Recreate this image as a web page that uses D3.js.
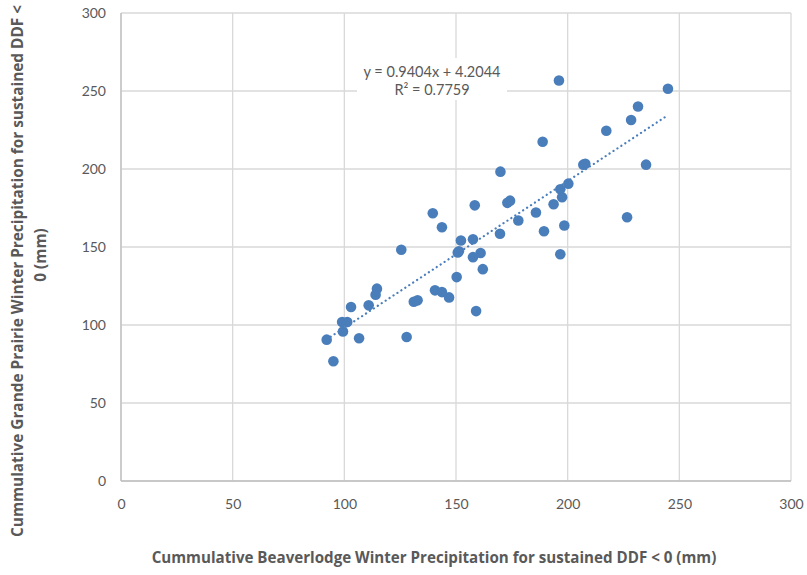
<!DOCTYPE html>
<html>
<head>
<meta charset="utf-8">
<script src="https://cdn.jsdelivr.net/npm/d3@7"></script>
<style>
  html, body { margin: 0; padding: 0; background: #fff; }
  svg { display: block; font-family: Lato, "Open Sans", sans-serif; }
</style>
</head>
<body>
<svg id="chart" width="807" height="575"></svg>
<script>
// Cumulative winter precipitation (mm) for sustained DDF < 0, one point per winter
const beaverlodge = [
  92.1, 95.1, 99.0, 101.3, 99.4, 103.0, 106.6, 110.9, 114.6, 114.0,
  125.5, 127.9, 131.1, 132.8, 139.6, 140.6, 143.7, 143.7, 146.9, 150.3,
  150.8, 151.3, 152.2, 158.4, 157.6, 157.6, 159.0, 161.0, 162.0, 169.7,
  169.9, 173.0, 174.2, 177.9, 185.8, 188.8, 189.4, 193.7, 196.1, 196.7,
  196.7, 197.5, 198.5, 200.3, 207.0, 207.9, 217.3, 226.6, 228.4, 231.5,
  235.1, 244.9
];
const grandePrairie = [
  90.6, 76.8, 101.9, 101.9, 95.8, 111.5, 91.5, 112.6, 123.3, 119.4,
  148.2, 92.3, 114.9, 115.8, 171.6, 122.2, 162.7, 121.1, 117.7, 130.7,
  146.5, 147.3, 154.2, 176.7, 155.0, 143.5, 108.9, 146.2, 135.8, 158.5,
  198.3, 178.3, 179.7, 167.0, 172.1, 217.5, 160.1, 177.4, 256.7, 187.0,
  145.4, 181.9, 163.8, 190.6, 202.8, 203.4, 224.5, 169.1, 231.4, 240.1,
  202.8, 251.4
];

// Linear trendline coefficients and fit statistic
const slope = 0.9404;
const intercept = 4.2044;
const rSquared = 0.7759;

const xTicks = [0, 50, 100, 150, 200, 250, 300];
const yTicks = [0, 50, 100, 150, 200, 250, 300];

const xTitle = "Cummulative Beaverlodge Winter Precipitation for sustained DDF < 0 (mm)";
const yTitleLines = ["Cummulative Grande Prairie Winter Precipitation for sustained DDF <", "0 (mm)"];

const points = beaverlodge.map((x, i) => ({ x, y: grandePrairie[i] }));

const svg = d3.select("#chart");
const plot = { left: 121, right: 791, top: 13, bottom: 481 };

const x = d3.scaleLinear().domain([0, 300]).range([plot.left, plot.right]);
const y = d3.scaleLinear().domain([0, 300]).range([plot.bottom, plot.top]);

const textColor = "#595959";
const gridColor = "#d9d9d9";
const dotColor = "#4a7ebb";
const titleFont = "'Open Sans', Lato, sans-serif";

// Gridlines
const grid = svg.append("g");
grid.selectAll("line.v").data(xTicks).join("line")
  .attr("x1", d => x(d)).attr("x2", d => x(d))
  .attr("y1", plot.top).attr("y2", plot.bottom)
  .attr("stroke", gridColor).attr("stroke-width", 1.3);
grid.selectAll("line.h").data(yTicks).join("line")
  .attr("x1", plot.left).attr("x2", plot.right)
  .attr("y1", d => y(d)).attr("y2", d => y(d))
  .attr("stroke", gridColor).attr("stroke-width", 1.3);

// Axis lines
svg.append("line")
  .attr("x1", plot.left).attr("x2", plot.right)
  .attr("y1", plot.bottom).attr("y2", plot.bottom)
  .attr("stroke", "#bfbfbf").attr("stroke-width", 1.3);
svg.append("line")
  .attr("x1", plot.left).attr("x2", plot.left)
  .attr("y1", plot.top).attr("y2", plot.bottom)
  .attr("stroke", "#bfbfbf").attr("stroke-width", 1.3);

// Axes with labels only
const xAxis = svg.append("g")
  .attr("transform", `translate(0,${plot.bottom})`)
  .call(d3.axisBottom(x).tickValues(xTicks).tickSize(0).tickPadding(18));
const yAxis = svg.append("g")
  .attr("transform", `translate(${plot.left},0)`)
  .call(d3.axisLeft(y).tickValues(yTicks).tickSize(0).tickPadding(15));
[xAxis, yAxis].forEach(g => {
  g.select(".domain").remove();
  g.selectAll("text")
    .attr("fill", textColor)
    .style("font-family", "Lato, 'Open Sans', sans-serif")
    .style("font-size", "14px");
});

// Points
svg.append("g").selectAll("circle").data(points).join("circle")
  .attr("cx", d => x(d.x))
  .attr("cy", d => y(d.y))
  .attr("r", 5.3)
  .attr("fill", dotColor);

// Dotted linear trendline over the data range
const [xMin, xMax] = d3.extent(beaverlodge);
svg.append("line")
  .attr("x1", x(xMin)).attr("y1", y(slope * xMin + intercept))
  .attr("x2", x(xMax)).attr("y2", y(slope * xMax + intercept))
  .attr("stroke", dotColor)
  .attr("stroke-width", 2.2)
  .attr("stroke-linecap", "round")
  .attr("stroke-dasharray", "0.1 4.6");

// Trendline equation label
const eq = svg.append("g");
eq.append("rect")
  .attr("x", 357).attr("y", 58).attr("width", 150).attr("height", 42)
  .attr("fill", "#fff");
const eqText = eq.append("text")
  .attr("text-anchor", "middle")
  .attr("fill", textColor)
  .style("font-size", "14.5px");
eqText.append("tspan").attr("x", 432).attr("y", 77)
  .text(`y = ${slope}x + ${intercept}`);
eqText.append("tspan").attr("x", 432).attr("y", 95)
  .text(`R² = ${rSquared}`);

// Axis titles, sized so each line spans its intended width
function fitText(sel, width) {
  const w = sel.node().getComputedTextLength();
  const size = parseFloat(sel.style("font-size"));
  sel.style("font-size", (size * width / w).toFixed(2) + "px");
}

const xt = svg.append("text")
  .attr("x", 434).attr("y", 563)
  .attr("text-anchor", "middle")
  .attr("fill", textColor)
  .style("font-family", titleFont)
  .style("font-size", "14px").style("font-weight", "bold")
  .text(xTitle);
fitText(xt, 565);

const yTitleCenters = [[23, 271], [46, 255]];
let ySize = null;
yTitleLines.forEach((line, i) => {
  const [tx, ty] = yTitleCenters[i];
  const t = svg.append("text")
    .attr("transform", `translate(${tx},${ty}) rotate(-90)`)
    .attr("text-anchor", "middle")
    .attr("fill", textColor)
    .style("font-family", titleFont)
    .style("font-size", "14px").style("font-weight", "bold")
    .text(line);
  if (i === 0) { fitText(t, 532); ySize = t.style("font-size"); }
  else t.style("font-size", ySize);
});
</script>
</body>
</html>
